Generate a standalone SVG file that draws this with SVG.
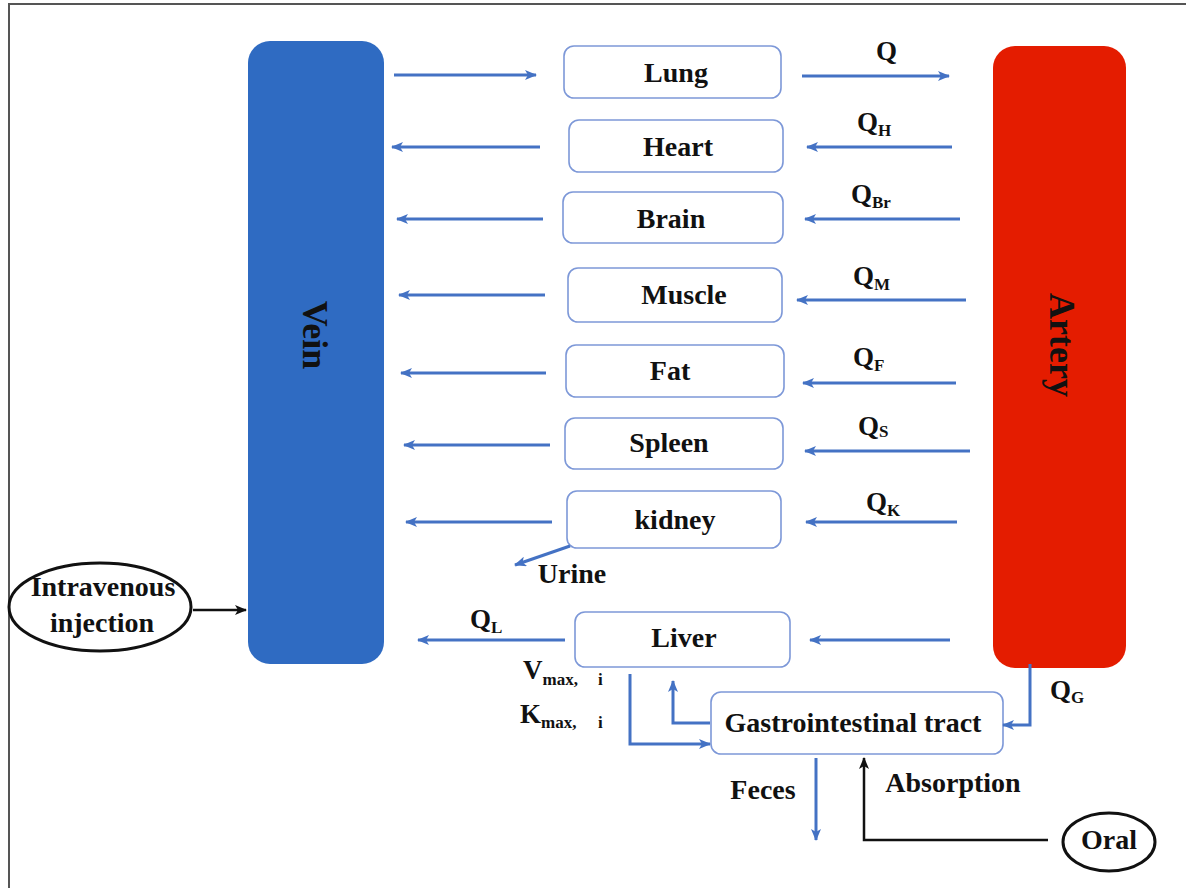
<svg xmlns="http://www.w3.org/2000/svg" width="1186" height="888" viewBox="0 0 1186 888">
<defs>
<style>
text{font-family:"Liberation Serif","Times New Roman",serif;font-weight:bold;fill:#111;}
.lbl{font-size:28px;text-anchor:middle;}
.big{font-size:36px;text-anchor:middle;}
.q{font-size:27px;}
.sub{font-size:17px;}
.box{fill:#fff;stroke:#7d98d8;stroke-width:1.6;}
.ba{stroke:#4472c4;stroke-width:3;fill:none;marker-end:url(#bh);}
.ka{stroke:#111;stroke-width:2.5;fill:none;marker-end:url(#kh);}
.ell{fill:#fff;stroke:#111;stroke-width:3;}
</style>
<marker id="bh" markerUnits="userSpaceOnUse" markerWidth="12" markerHeight="10" refX="11" refY="5" orient="auto"><path d="M0,0 L12,5 L0,10 L3,5 z" fill="#4472c4"/></marker>
<marker id="kh" markerUnits="userSpaceOnUse" markerWidth="12" markerHeight="10" refX="11" refY="5" orient="auto"><path d="M0,0 L12,5 L0,10 L3,5 z" fill="#111"/></marker>
</defs>
<rect width="1186" height="888" fill="#fff"/>
<path d="M9,888 V4 H1186" fill="none" stroke="#555" stroke-width="2"/>

<g id="vein"><rect x="248" y="41" width="136" height="623" rx="22" fill="#2f6bc2"/><text class="big" transform="translate(303,335) rotate(90)">Vein</text></g>
<g id="artery"><rect x="993" y="46" width="133" height="622" rx="22" fill="#e41c00"/><text class="big" transform="translate(1050,345) rotate(90)">Artery</text></g>

<g id="lung"><rect class="box" x="564" y="46" width="217" height="52" rx="10"/><text class="lbl" x="676" y="82">Lung</text></g>
<g id="heart"><rect class="box" x="569" y="120" width="214" height="52" rx="10"/><text class="lbl" x="678" y="156">Heart</text></g>
<g id="brain"><rect class="box" x="563" y="192" width="220" height="51" rx="10"/><text class="lbl" x="671" y="228">Brain</text></g>
<g id="muscle"><rect class="box" x="568" y="268" width="214" height="54" rx="10"/><text class="lbl" x="684" y="304">Muscle</text></g>
<g id="fat"><rect class="box" x="566" y="345" width="218" height="52" rx="10"/><text class="lbl" x="670" y="380">Fat</text></g>
<g id="spleen"><rect class="box" x="565" y="418" width="218" height="51" rx="10"/><text class="lbl" x="669" y="452">Spleen</text></g>
<g id="kidney"><rect class="box" x="567" y="491" width="214" height="57" rx="10"/><text class="lbl" x="675" y="529">kidney</text></g>
<g id="liver"><rect class="box" x="575" y="612" width="215" height="55" rx="10"/><text class="lbl" x="684" y="647">Liver</text></g>
<g id="gi"><rect class="box" x="711" y="692" width="292" height="62" rx="10"/><text class="lbl" x="853" y="732">Gastrointestinal tract</text></g>
<g id="iv"><ellipse class="ell" cx="100" cy="607" rx="91" ry="44"/><text class="lbl" x="103" y="596">Intravenous</text><text class="lbl" x="102" y="632">injection</text></g>
<g id="oral"><ellipse class="ell" cx="1109" cy="842" rx="46" ry="29"/><text class="lbl" x="1109" y="849">Oral</text></g>

<g id="connectors">
<line class="ba" x1="394" y1="75" x2="536" y2="75"/>
<line class="ba" x1="802" y1="76" x2="949" y2="76"/>
<line class="ba" x1="540" y1="147" x2="392" y2="147"/>
<line class="ba" x1="952" y1="147" x2="807" y2="147"/>
<line class="ba" x1="543" y1="219" x2="397" y2="219"/>
<line class="ba" x1="960" y1="219" x2="805" y2="219"/>
<line class="ba" x1="545" y1="295" x2="399" y2="295"/>
<line class="ba" x1="966" y1="300" x2="797" y2="300"/>
<line class="ba" x1="546" y1="373" x2="401" y2="373"/>
<line class="ba" x1="956" y1="383" x2="803" y2="383"/>
<line class="ba" x1="550" y1="445" x2="404" y2="445"/>
<line class="ba" x1="970" y1="451" x2="805" y2="451"/>
<line class="ba" x1="552" y1="522" x2="406" y2="522"/>
<line class="ba" x1="957" y1="522" x2="806" y2="522"/>
<line class="ba" x1="570" y1="546" x2="515" y2="565"/>
<line class="ba" x1="565" y1="640" x2="418" y2="640"/>
<line class="ba" x1="950" y1="640" x2="810" y2="640"/>
<path class="ba" d="M630,674 V744 H710"/>
<path class="ba" d="M710,723 H673 V681"/>
<path class="ba" d="M1030,664 V725 H1003"/>
<line class="ba" x1="816" y1="758" x2="816" y2="840"/>
<path class="ka" d="M1048,840 H864 V758"/>
<line class="ka" x1="193" y1="610" x2="246" y2="610"/>
</g>

<g id="labels">
<text class="q" x="876" y="60">Q</text>
<text class="q" x="857" y="131">Q<tspan class="sub" dy="5">H</tspan></text>
<text class="q" x="851" y="203">Q<tspan class="sub" dy="5">Br</tspan></text>
<text class="q" x="853" y="285">Q<tspan class="sub" dy="5">M</tspan></text>
<text class="q" x="853" y="366">Q<tspan class="sub" dy="5">F</tspan></text>
<text class="q" x="858" y="435">Q<tspan class="sub" dy="2">S</tspan></text>
<text class="q" x="866" y="511">Q<tspan class="sub" dy="5">K</tspan></text>
<text class="q" x="470" y="628">Q<tspan class="sub" dy="5">L</tspan></text>
<text class="q" x="1050" y="699">Q<tspan class="sub" dy="4">G</tspan></text>
<text class="q" x="523" y="679">V<tspan class="sub" dy="6">max,</tspan><tspan class="sub" x="598">i</tspan></text>
<text class="q" x="520" y="723">K<tspan class="sub" dy="5">max,</tspan><tspan class="sub" x="598">i</tspan></text>
<text class="lbl" x="572" y="583">Urine</text>
<text class="lbl" x="763" y="799">Feces</text>
<text class="lbl" x="953" y="792">Absorption</text>
</g>
</svg>
